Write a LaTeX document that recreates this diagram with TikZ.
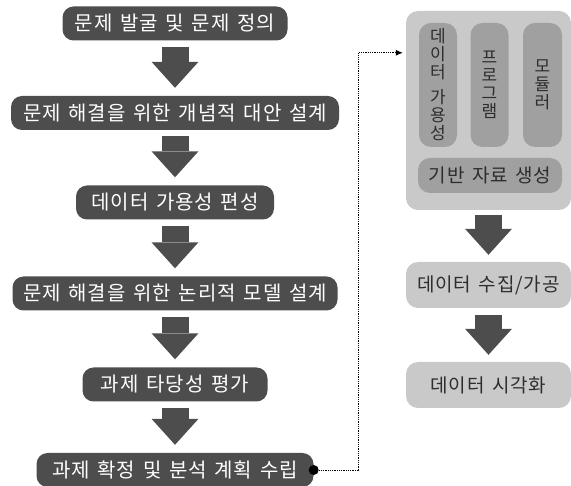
\documentclass[tikz,border=0pt]{standalone}
\usepackage{fontspec}
\setmainfont{Noto Sans CJK KR}[LetterSpace=5,WordSpace=1.4]
\usetikzlibrary{arrows.meta}
\definecolor{darkbox}{RGB}{77,77,77}
\definecolor{panelgray}{RGB}{201,201,201}
\definecolor{pillargray}{RGB}{160,160,160}
\definecolor{inktext}{RGB}{45,45,45}

\begin{document}
\begin{tikzpicture}[x=1pt,y=-1pt,
  stepbox/.style={fill=darkbox,text=white,rounded corners=11pt,minimum height=34pt,inner sep=0pt,font=\fontsize{20}{22}\selectfont},
  lightbox/.style={fill=panelgray,text=inktext,rounded corners=12pt,minimum width=165pt,minimum height=46pt,inner sep=0pt,font=\fontsize{19}{21}\selectfont},
  pillar/.style={fill=pillargray,text=inktext,rounded corners=12pt,inner sep=0pt,align=center,font=\fontsize{17}{18}\selectfont},
  bigarrow/.style={draw=darkbox,line width=27pt,-{Triangle[length=26pt,width=47pt,line width=0pt]},shorten <=6pt,shorten >=8pt},
  link/.style={densely dotted,line width=0.8pt,-{Latex[length=7pt,width=6pt]},shorten >=3pt}]
\useasboundingbox (0,0) rectangle (571,486);
%\draw[help lines,step=10] (0,0) grid (571,486);

% left column
\node[stepbox,minimum width=225pt] (find) at (175,23.5) {문제 발굴 및 문제 정의};
\node[stepbox,minimum width=328pt] (concept) at (175,113) {문제 해결을 위한 개념적 대안 설계};
\node[stepbox,minimum width=198pt] (avail) at (175,202.5) {데이터 가용성 편성};
\node[stepbox,minimum width=325pt] (logic) at (175,293.5) {문제 해결을 위한 논리적 모델 설계};
\node[stepbox,minimum width=185pt] (valid) at (175,384.5) {과제 타당성 평가};
\node[stepbox,minimum width=277pt] (plan) at (175,470) {과제 확정 및 분석 계획 수립};

\draw[bigarrow] (find) -- (concept);
\draw[bigarrow] (concept) -- (avail);
\draw[bigarrow] (avail) -- (logic);
\draw[bigarrow] (logic) -- (valid);
\draw[bigarrow] (valid) -- (plan);

% right column
\node[fill=panelgray,rounded corners=12pt,minimum width=165pt,minimum height=199pt,inner sep=0pt] (panel) at (488.5,110.5) {};
\node[pillar,minimum width=38pt,minimum height=124pt] (dataavail) at (438,85) {데\\이\\터\\[7pt]가\\용\\성};
\node[pillar,minimum width=38pt,minimum height=124pt] (program) at (489.5,85) {프\\로\\그\\램};
\node[pillar,minimum width=39pt,minimum height=124pt] (module) at (542.5,85) {모\\듈\\러};
\node[pillar,minimum width=144pt,minimum height=35pt,font=\fontsize{19}{21}\selectfont] (base) at (490,175.5) {기반 자료 생성};

\node[lightbox] (collect) at (488.5,285) {데이터 수집/가공};
\node[lightbox] (visual) at (488.5,385) {데이터 시각화};

\draw[bigarrow,shorten <=5pt,shorten >=7pt] (panel) -- (collect);
\draw[bigarrow,shorten <=7pt,shorten >=7pt] (collect) -- (visual);

% link
\coordinate (inlet) at ([yshift=-42pt]panel.north west);
\draw[link] (plan.east) -- ++(45,0) |- (inlet);
\fill (plan.east) circle (5pt);
\end{tikzpicture}
\end{document}
